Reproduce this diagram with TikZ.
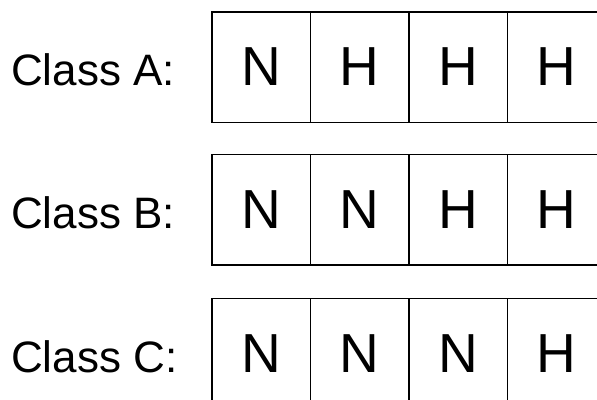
\documentclass[tikz,border=0pt]{standalone}
\usepackage{fontspec}
\setmainfont{Liberation Sans}
\usetikzlibrary{positioning}

\tikzset{
    cell/.style={draw, line width=1.5pt, rectangle, outer sep=0pt, inner sep=0pt,
        minimum width=98.5pt, minimum height=110.5pt,
        font=\fontsize{55}{60}\selectfont},
    classlabel/.style={anchor=west, inner sep=0pt, font=\fontsize{44}{48}\selectfont}
}

\begin{document}
\begin{tikzpicture}[x=1pt,y=-1pt]
    \useasboundingbox (0,0) rectangle (597,399);
    \clip (0,0) rectangle (597,399);
    % one row per class
    \foreach \cls/\yy/\a/\b/\c/\d in {A/67/N/H/H/H, B/209.5/N/N/H/H, C/353.5/N/N/N/H}{
        \node[classlabel] (lab\cls) at (11,\yy+3) {Class \cls:};
        \node[cell, anchor=west] (\cls1) at (212,\yy) {\a};
        \node[cell, right=0pt of \cls1] (\cls2) {\b};
        \node[cell, right=0pt of \cls2] (\cls3) {\c};
        \node[cell, right=0pt of \cls3] (\cls4) {\d};
    }
\end{tikzpicture}
\end{document}
